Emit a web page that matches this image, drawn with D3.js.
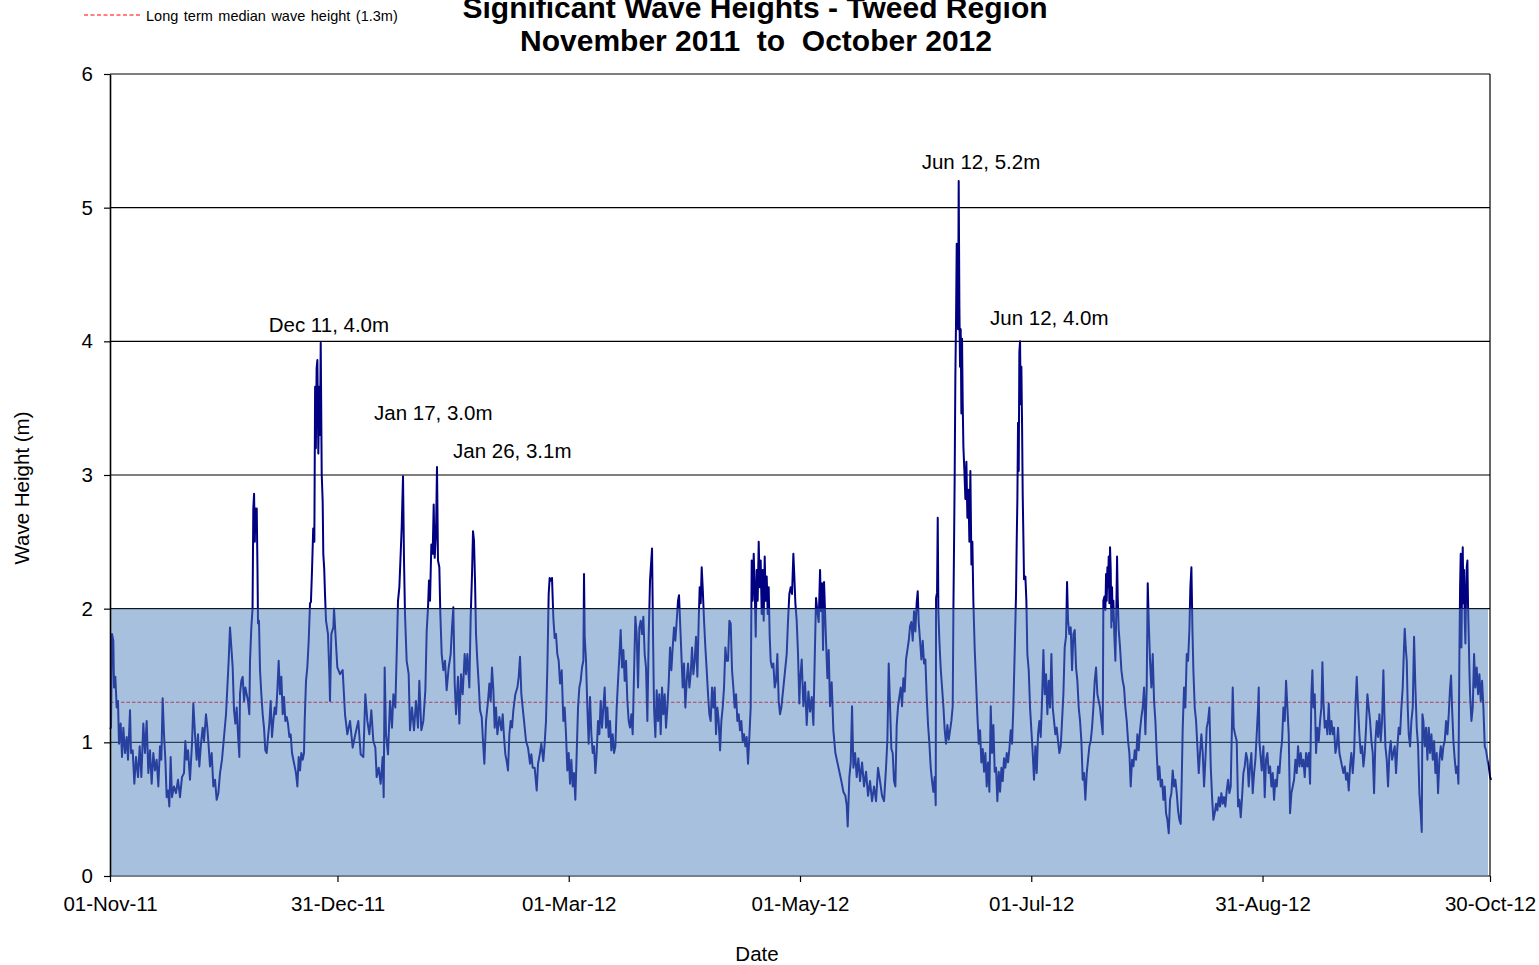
<!DOCTYPE html>
<html>
<head>
<meta charset="utf-8">
<script src="https://cdn.jsdelivr.net/npm/d3@7"></script>
<style>
body { margin: 0; background: #fff; }
text { font-family: "Liberation Sans", Arial, sans-serif; fill: #000; }
</style>
</head>
<body>
<svg id="chart" width="1539" height="965"></svg>
<script>
// hourly Hs as [days since 01-Nov-11, Hs (m)]
var hsNovDec = [[0,1.1],[0.26,1.11],[0.53,1.81],[0.88,1.76],[1.06,1.41],[1.41,1.49],[1.76,1.26],[2.11,1.31],[2.37,0.99],[2.81,1.14],[3.17,0.89],[3.52,1.11],[3.96,0.92],[4.4,1.04],[4.75,0.87],[5.28,1.24],[5.54,0.92],[5.98,0.94],[6.42,0.69],[6.86,0.89],[7.39,0.74],[7.83,0.97],[8.27,0.74],[8.79,1.14],[9.23,0.92],[9.67,1.16],[10.11,0.77],[10.55,0.94],[10.99,0.69],[11.43,0.92],[11.87,0.79],[12.31,0.87],[12.75,0.67],[13.19,0.97],[13.54,0.87],[13.89,1.33],[14.24,1.06],[14.6,0.87],[14.95,0.59],[15.3,0.64],[15.65,0.52],[16,0.89],[16.35,0.59],[16.88,0.67],[17.41,0.62],[17.94,0.72],[18.46,0.59],[18.99,0.74],[19.52,0.77],[19.87,1.01],[20.22,0.87],[20.58,0.94],[21.1,0.72],[21.63,0.99],[21.98,1.29],[22.42,1.06],[22.86,0.87],[23.21,1.06],[23.56,0.82],[24,0.99],[24.44,1.11],[24.8,1.01],[25.32,1.21],[25.67,1.11],[26.03,0.97],[26.38,0.82],[26.82,0.92],[27.26,0.67],[27.7,0.72],[28.14,0.57],[28.58,0.62],[29.02,0.77],[29.54,0.87],[30.07,1.04],[30.6,1.21],[30.95,1.41],[31.3,1.61],[31.65,1.86],[32.01,1.71],[32.36,1.56],[32.71,1.24],[33.06,1.14],[33.41,1.26],[33.76,1.06],[34.12,0.89],[34.29,1.36],[34.64,1.46],[35,1.49],[35.35,1.31],[35.7,1.41],[36.05,1.36],[36.4,1.31],[36.75,1.21],[36.93,1.61],[37.28,1.86],[37.6,2.0],[37.8,2.75],[38.0,2.86],[38.2,2.5],[38.35,2.75],[38.5,2.6],[38.7,2.75],[38.9,2.3],[39.04,1.89],[39.3,1.91],[39.57,1.54],[39.92,1.36],[40.27,1.21],[40.62,1.11],[40.97,0.94],[41.33,0.92],[41.68,1.04],[42.03,1.14],[42.38,1.31],[42.73,1.04],[43.08,1.16],[43.44,1.26],[43.79,1.21],[44.14,1.39],[44.49,1.61],[44.84,1.36],[45.2,1.49],[45.55,1.21],[45.9,1.34],[46.25,1.16],[46.6,1.19],[46.95,1.14],[47.31,1.04],[47.66,1.06],[48.01,0.92],[48.36,0.87],[48.71,0.82],[49.06,0.77],[49.42,0.67],[49.77,0.89],[50.12,0.79],[50.47,0.92],[50.82,0.87],[51.17,0.92],[51.35,1.16],[51.7,1.46],[52.05,1.56],[52.41,1.76],[52.76,2.04],[53.0,2.05],[53.3,2.3],[53.6,2.6],[53.9,2.5],[54.1,3.66],[54.3,3.2],[54.5,3.8],[54.7,3.86],[54.95,3.16],[55.2,3.66],[55.4,3.3],[55.58,3.99],[55.84,3.01],[56.1,2.8],[56.26,2.41],[56.5,2.3],[56.71,2.11],[56.98,1.91],[57.5,1.81],[57.86,1.51],[58.03,1.31],[58.38,1.81],[58.91,1.86]]

var hsJanFeb = [[59.09,2.0],[59.96,1.56],[60.67,1.51],[61.37,1.54],[61.99,1.21],[62.6,1.06],[63.31,1.16],[64.01,0.96],[64.71,1.06],[65.5,1.16],[66.12,0.91],[66.82,0.89],[67.35,1.36],[67.88,1.16],[68.41,1.06],[68.93,1.24],[69.46,1.01],[69.99,0.96],[70.34,0.74],[70.87,0.81],[71.39,0.69],[71.92,0.89],[72.19,0.59],[72.45,1.56],[72.8,1.06],[73.33,0.91],[73.86,1.31],[74.38,1.11],[74.74,1.36],[75.26,1.26],[75.62,1.66],[75.97,2.06],[76.32,2.16],[76.67,2.41],[76.94,2.61],[77.29,2.99],[77.55,2.36],[77.81,1.96],[78.25,1.61],[78.78,1.51],[79.13,1.09],[79.66,1.26],[80.19,1.09],[80.71,1.31],[81.24,1.11],[81.59,1.46],[82.12,1.09],[82.65,1.16],[83.18,1.39],[83.53,1.83],[83.88,2.01],[84.14,2.21],[84.41,2.06],[84.76,2.48],[85.11,2.41],[85.38,2.78],[85.64,2.38],[85.99,2.56],[86.25,3.06],[86.52,2.36],[86.87,2.31],[87.13,1.96],[87.49,1.66],[87.93,1.54],[88.36,1.61],[88.8,1.39],[89.33,1.56],[89.86,1.66],[90.21,1.86],[90.56,2.01],[90.92,1.44],[91.27,1.21],[91.79,1.49],[92.15,1.14],[92.59,1.51],[93.03,1.36],[93.55,1.66],[93.9,1.51],[94.26,1.66],[94.78,1.41],[95.13,1.93],[95.49,2.26],[95.75,2.58],[96.01,2.51],[96.28,2.21],[96.54,1.81],[96.89,1.61],[97.25,1.44],[97.6,1.24],[98.04,1.19],[98.48,0.96],[98.74,0.84],[99.18,1.16],[99.71,1.31],[100.06,1.44],[100.41,1.31],[100.76,1.56],[101.12,1.39],[101.47,1.11],[101.82,1.26],[102.17,1.06],[102.7,1.19],[103.22,1.09],[103.58,1.21],[103.93,1.04],[104.28,0.91],[104.63,0.86],[104.98,0.79],[105.34,1.06],[105.69,1.16],[106.04,1.11],[106.39,1.24],[106.92,1.36],[107.45,1.41],[107.8,1.49],[108.15,1.64],[108.5,1.36],[108.85,1.26],[109.21,1.16],[109.73,1.01],[110.26,0.96],[110.79,0.84],[111.14,0.91],[111.49,0.81],[112.02,0.81],[112.55,0.64],[112.9,0.84],[113.25,0.89],[113.77,0.99],[114.3,0.86],[114.65,0.99],[115.0,1.16],[115.36,1.56],[115.71,2.11],[115.97,2.23],[116.24,2.21],[116.59,2.23],[116.94,1.93],[117.29,1.78],[117.64,1.81],[117.99,1.66],[118.35,1.61],[118.7,1.44]]

var hsMarApr = [[119.14,1.54],[119.58,1.16],[119.93,1.26],[120.28,1.06],[120.63,0.79],[120.99,0.92],[121.34,0.69],[121.69,0.87],[122.04,0.67],[122.39,0.77],[122.74,0.57],[123.1,0.92],[123.45,1.26],[123.8,1.41],[124.15,1.46],[124.5,1.56],[124.86,1.61],[125.03,2.26],[125.21,1.79],[125.56,1.61],[125.91,1.26],[126.26,0.99],[126.61,1.34],[126.97,1.06],[127.32,0.92],[127.67,0.97],[128.02,0.77],[128.37,0.92],[128.72,1.16],[129.08,1.06],[129.43,1.31],[129.78,1.11],[130.13,1.26],[130.48,1.41],[130.83,1.11],[131.19,1.26],[131.54,1.04],[131.89,1.16],[132.24,0.94],[132.59,1.06],[132.94,0.92],[133.3,0.97],[133.65,1.26],[134.0,1.46],[134.35,1.64],[134.7,1.84],[135.05,1.56],[135.41,1.69],[135.76,1.46],[136.11,1.61],[136.46,1.31],[136.81,1.16],[137.16,1.11],[137.52,1.21],[137.87,1.06],[138.22,1.51],[138.57,1.94],[138.92,1.81],[139.28,1.41],[139.63,1.86],[139.98,1.91],[140.33,1.81],[140.68,1.94],[141.03,1.66],[141.38,1.56],[141.74,1.16],[142.09,1.79],[142.44,2.21],[142.97,2.45],[143.23,1.81],[143.5,1.26],[143.85,1.04],[144.2,1.39],[144.55,1.16],[144.9,1.36],[145.25,1.06],[145.61,1.41],[145.96,1.21],[146.31,1.36],[146.66,1.11],[147.01,1.26],[147.36,1.44],[147.72,1.71],[148.07,1.54],[148.42,1.71],[148.77,1.86],[149.12,1.76],[149.48,1.91],[149.83,2.06],[150.09,2.1],[150.36,1.91],[150.71,1.66],[151.06,1.41],[151.41,1.59],[151.76,1.26],[152.11,1.46],[152.47,1.59],[152.82,1.41],[153.17,1.51],[153.52,1.71],[153.87,1.51],[154.22,1.61],[154.57,1.79],[154.93,1.49],[155.28,1.91],[155.54,2.16],[155.81,2.04],[156.07,2.31],[156.33,2.16],[156.69,1.91],[157.04,1.71],[157.39,1.54],[157.74,1.36],[158.09,1.21],[158.44,1.16],[158.8,1.41],[159.15,1.26],[159.5,1.41],[159.85,1.06],[160.2,1.26],[160.55,1.16],[160.91,0.94],[161.26,1.16],[161.61,1.26],[161.96,1.41],[162.31,1.71],[162.66,1.61],[163.02,1.61],[163.37,1.91],[163.72,1.89],[164.07,1.54],[164.42,1.41],[164.77,1.26],[165.13,1.36],[165.48,1.16],[165.83,1.21],[166.18,1.09],[166.53,1.16],[166.88,1.01],[167.24,1.06],[167.59,0.97],[167.94,1.04],[168.29,0.84],[168.64,1.04],[168.99,1.26],[169.26,2.36],[169.52,2.06],[169.79,2.41],[170.05,2.16],[170.32,1.79],[170.58,2.29],[170.84,2.06],[171.11,2.5],[171.37,2.16],[171.63,2.36],[171.9,1.96],[172.16,2.29],[172.42,1.91],[172.69,2.39],[172.95,2.06],[173.22,2.24],[173.48,1.96],[173.74,2.16],[174.01,1.79],[174.27,1.61],[174.62,1.56],[174.97,1.59],[175.33,1.41],[175.68,1.46],[176.03,1.66],[176.38,1.31],[176.73,1.21],[177.08,1.26],[177.44,1.36],[177.79,1.46],[178.14,1.56],[178.49,1.66],[178.84,1.91],[179.19,2.11],[179.55,2.16],[179.9,2.11],[180.25,2.41],[180.51,2.24],[180.78,2.04],[181.13,1.91],[181.48,1.66],[181.83,1.29]]

var hsMayJun = [[182.01,1.45],[182.45,1.62],[182.89,1.27],[183.33,1.45],[183.77,1.13],[184.21,1.38],[184.65,1.23],[185.09,1.34],[185.53,1.13],[185.88,1.62],[186.23,2.08],[186.58,1.98],[186.93,1.9],[187.29,2.29],[187.55,1.98],[187.81,2.19],[188.08,1.69],[188.34,2.2],[188.6,1.98],[188.87,1.76],[189.22,1.48],[189.57,1.69],[189.92,1.27],[190.36,1.45],[190.8,1.09],[191.33,0.92],[191.86,0.85],[192.39,0.78],[192.91,0.71],[193.44,0.63],[193.97,0.6],[194.32,0.53],[194.58,0.37],[195.02,0.74],[195.38,0.85],[195.73,1.27],[196.08,0.81],[196.52,0.92],[196.96,0.74],[197.4,0.88],[197.84,0.71],[198.37,0.85],[198.89,0.67],[199.42,0.78],[199.95,0.6],[200.47,0.71],[201.0,0.56],[201.53,0.67],[202.06,0.56],[202.58,0.81],[203.11,0.71],[203.64,0.6],[204.17,0.56],[204.69,0.81],[205.05,1.02],[205.4,1.59],[205.75,1.27],[206.1,0.95],[206.45,0.92],[206.8,0.71],[207.16,0.67],[207.51,1.13],[207.86,1.27],[208.21,1.34],[208.56,1.41],[208.91,1.27],[209.27,1.48],[209.62,1.38],[209.97,1.62],[210.32,1.69],[210.68,1.76],[211.03,1.87],[211.38,1.9],[211.73,1.76],[212.08,1.98],[212.43,1.83],[212.79,2.05],[213.05,2.13],[213.31,1.9],[213.67,1.76],[214.02,1.62],[214.37,1.76],[214.72,1.59],[215.07,1.62],[215.42,1.34],[215.78,1.13],[216.13,0.99],[216.48,0.81],[216.83,0.71],[217.18,0.63],[217.53,0.74],[217.8,0.53],[217.89,2.08],[218.15,2.12],[218.33,2.68],[218.5,1.98],[218.76,1.76],[219.12,1.55],[219.47,1.41],[219.82,1.27],[220.17,1.09],[220.52,0.99],[220.87,1.13],[221.23,1.02],[221.58,1.09],[221.93,1.16],[222.28,1.27],[222.46,1.98],[222.63,2.47],[222.81,3.03],[222.98,3.74],[223.16,4.16],[223.34,4.73],[223.51,4.44],[223.69,4.09],[223.86,5.2],[224.04,4.27],[224.21,3.81],[224.39,4.09],[224.57,3.46],[224.74,4.02],[224.92,3.53],[225.1,3.21],[225.36,3.03],[225.62,2.82],[225.89,3.1],[226.15,2.68],[226.41,2.89],[226.68,2.5],[226.94,3.03],[227.21,2.33],[227.47,2.5],[227.73,2.05],[228.09,1.69],[228.44,1.45],[228.79,1.2],[229.14,0.99],[229.49,1.09],[229.84,0.85],[230.2,0.95],[230.55,0.78],[230.9,0.92],[231.25,0.67],[231.6,0.85],[231.95,0.63],[232.31,1.27],[232.66,0.92],[233.01,1.13],[233.36,0.78],[233.71,0.81],[234.06,0.56],[234.42,0.78],[234.77,0.63],[235.12,0.81],[235.47,0.71],[235.82,0.88],[236.17,0.81],[236.53,0.92],[236.88,0.85],[237.23,0.95],[237.58,1.09],[237.93,0.99],[238.28,1.27],[238.64,1.69],[238.99,2.12],[239.16,2.5],[239.34,2.82],[239.51,3.39],[239.69,3.03],[239.86,3.92],[240.04,4.0],[240.22,3.53],[240.39,3.81],[240.57,3.39],[240.74,2.86],[240.92,2.54],[241.09,2.22]]

var hsJulAug = [[241.45,2.24],[241.71,2.06],[241.97,1.66],[242.33,1.54],[242.68,1.26],[243.03,1.09],[243.38,0.92],[243.73,0.72],[244.08,0.97],[244.44,0.77],[244.79,1.06],[245.14,1.16],[245.49,1.04],[245.84,1.31],[246.2,1.69],[246.55,1.36],[246.9,1.51],[247.25,1.21],[247.6,1.46],[247.95,1.26],[248.31,1.66],[248.66,1.26],[249.01,1.16],[249.36,1.06],[249.71,1.11],[250.06,1.01],[250.42,0.92],[250.77,0.97],[251.12,1.16],[251.47,1.36],[251.82,1.71],[252.17,1.79],[252.44,2.2],[252.7,1.91],[253.05,1.81],[253.41,1.86],[253.76,1.54],[254.11,1.81],[254.46,1.84],[254.81,1.56],[255.16,1.46],[255.52,1.26],[255.87,1.16],[256.22,1.01],[256.57,0.72],[256.92,0.77],[257.27,0.57],[257.63,0.77],[257.98,0.87],[258.33,0.97],[258.68,1.01],[259.03,1.11],[259.38,1.26],[259.74,1.46],[260.09,1.56],[260.44,1.36],[260.79,1.31],[261.14,1.26],[261.49,1.16],[261.85,1.06],[262.02,2.06],[262.29,2.09],[262.55,1.99],[262.73,2.26],[262.9,2.06],[263.08,2.31],[263.25,2.16],[263.43,2.39],[263.6,2.04],[263.78,2.46],[263.96,2.29],[264.13,1.86],[264.31,2.16],[264.48,1.91],[264.66,2.06],[264.92,1.79],[265.19,1.61],[265.45,2.01],[265.63,2.39],[265.8,2.09],[266.07,1.84],[266.42,1.71],[266.77,1.54],[267.12,1.46],[267.47,1.41],[267.83,1.26],[268.18,1.16],[268.53,1.01],[268.88,0.92],[269.23,0.67],[269.58,0.87],[269.94,0.82],[270.29,0.94],[270.64,0.87],[270.99,1.06],[271.34,0.94],[271.69,1.09],[272.05,1.19],[272.4,1.26],[272.75,1.41],[273.1,1.06],[273.45,1.41],[273.72,2.19],[273.98,1.91],[274.33,1.61],[274.68,1.41],[275.04,1.66],[275.39,1.31],[275.74,1.16],[276.09,0.92],[276.44,0.72],[276.79,0.82],[277.15,0.67],[277.5,0.72],[277.85,0.57],[278.2,0.67],[278.55,0.47],[278.9,0.42],[279.26,0.32],[279.61,0.57],[279.96,0.62],[280.31,0.79],[280.66,0.67],[281.01,0.72],[281.37,0.62],[281.72,0.49],[282.07,0.42],[282.42,0.39],[282.69,0.72],[282.95,1.11],[283.3,1.41],[283.65,1.26],[284.01,1.66],[284.36,1.61],[284.71,1.84],[284.97,2.16],[285.24,2.31],[285.5,1.86],[285.76,1.54],[286.12,1.26],[286.47,1.16],[286.82,0.97],[287.17,0.77],[287.52,0.92],[287.87,1.06],[288.23,0.92],[288.58,0.67],[288.93,0.87],[289.28,1.11],[289.63,1.16],[289.98,1.26],[290.34,0.82],[290.69,0.59],[291.04,0.42],[291.39,0.47],[291.74,0.54],[292.09,0.49],[292.45,0.59],[292.8,0.52],[293.15,0.62],[293.5,0.54],[293.85,0.59],[294.2,0.52],[294.56,0.64],[294.91,0.72],[295.26,0.62],[295.61,0.67],[295.96,1.16],[296.14,1.41],[296.4,1.11],[296.75,1.06],[297.19,1.01],[297.55,0.52],[297.9,0.57],[298.25,0.44],[298.6,0.59],[298.95,0.77],[299.3,0.82],[299.66,0.92],[300.01,0.87],[300.36,0.67],[300.71,0.82],[301.06,0.92],[301.41,0.62],[301.77,0.77],[302.12,0.87],[302.47,1.06],[302.82,1.26],[303.0,1.41],[303.17,1.01]]

var hsSepOct = [[303.79,0.79],[304.23,0.97],[304.58,0.59],[304.93,0.87],[305.28,0.92],[305.64,0.77],[305.99,0.82],[306.34,0.67],[306.69,0.77],[307.04,0.57],[307.39,0.72],[307.75,0.67],[308.1,0.82],[308.45,0.77],[308.8,0.92],[309.15,1.01],[309.51,1.26],[309.86,1.16],[310.21,1.46],[310.56,1.26],[310.91,1.06],[311.26,0.47],[311.62,0.62],[311.97,0.67],[312.32,0.72],[312.67,0.87],[313.02,0.77],[313.37,0.97],[313.73,0.82],[314.08,0.92],[314.43,0.82],[314.78,0.87],[315.13,0.74],[315.48,0.92],[315.84,0.82],[316.19,0.92],[316.54,0.69],[316.89,1.36],[317.15,1.54],[317.42,1.26],[317.77,1.36],[318.12,0.92],[318.47,1.11],[318.83,1.01],[319.18,1.16],[319.53,1.26],[319.79,1.6],[320.06,1.31],[320.41,1.11],[320.76,1.16],[321.11,1.06],[321.46,1.29],[321.81,1.06],[322.17,1.16],[322.52,1.06],[322.87,1.11],[323.22,0.92],[323.57,0.97],[323.92,1.11],[324.28,0.92],[324.63,0.87],[324.98,0.82],[325.33,0.77],[325.68,0.82],[326.04,0.72],[326.39,0.77],[326.74,0.64],[327.09,0.82],[327.44,0.92],[327.79,0.77],[328.15,0.92],[328.5,1.26],[328.85,1.49],[329.2,1.26],[329.55,1.06],[329.9,0.92],[330.26,0.97],[330.61,0.82],[330.96,0.92],[331.31,1.11],[331.66,1.36],[332.01,1.26],[332.37,1.16],[332.72,1.01],[333.07,0.92],[333.42,0.62],[333.77,1.01],[334.13,1.16],[334.48,1.04],[334.83,1.21],[335.18,1.01],[335.53,1.16],[335.88,1.54],[336.15,1.21],[336.41,0.97],[336.76,0.87],[337.11,0.67],[337.47,0.92],[337.82,1.01],[338.17,0.87],[338.52,0.92],[338.87,0.97],[339.22,0.77],[339.58,0.97],[339.93,1.11],[340.28,1.06],[340.63,1.26],[340.98,1.41],[341.25,1.66],[341.51,1.85],[341.77,1.71],[342.04,1.61],[342.3,1.26],[342.57,1.06],[342.92,0.97],[343.27,1.16],[343.62,1.26],[343.97,1.79],[344.32,1.41],[344.68,1.11],[345.03,0.97],[345.38,0.62],[345.73,0.47],[346.0,0.33],[346.17,1.21],[346.43,1.16],[346.79,0.97],[347.14,1.11],[347.49,0.87],[347.84,1.11],[348.19,0.92],[348.55,1.06],[348.9,0.87],[349.25,1.01],[349.6,0.77],[349.95,0.92],[350.3,0.62],[350.66,0.87],[351.01,0.97],[351.36,0.87],[351.71,0.97],[352.06,1.01],[352.41,1.16],[352.77,1.06],[353.12,1.21],[353.47,1.41],[353.73,1.5],[353.99,1.26],[354.35,1.01],[354.7,0.87],[355.05,0.77],[355.4,0.82],[355.67,0.69],[355.93,1.66],[356.11,2.16],[356.28,2.41],[356.46,1.71],[356.63,2.16],[356.81,2.46],[356.99,2.04],[357.16,2.29],[357.34,1.91],[357.51,1.74],[357.69,2.11],[357.86,2.31],[358.04,2.36],[358.22,2.01],[358.39,1.79],[358.57,1.54],[358.74,1.36],[359.1,1.16],[359.45,1.26],[359.8,1.66],[360.15,1.41],[360.5,1.56],[360.86,1.36],[361.21,1.51],[361.56,1.31],[361.91,1.46],[362.26,1.26],[362.61,0.97],[362.97,0.94],[363.32,0.87],[363.67,0.82],[364.02,0.74],[364.3,0.72]]

var tickDates = ["2011-11-01", "2011-12-31", "2012-03-01", "2012-05-01", "2012-07-01", "2012-08-31", "2012-10-30"]
var yTicks = [0, 1, 2, 3, 4, 5, 6]
var medianHs = 1.3
var shadeTop = 2
var peakLabels = ["Dec 11, 4.0m", "Jan 17, 3.0m", "Jan 26, 3.1m", "Jun 12, 5.2m", "Jun 12, 4.0m"]
var peakDays = [55.58, 77.29, 86.25, 223.86, 240.04]
var peakHs = [4.0, 3.0, 3.1, 5.2, 4.0]

// where each label text sits relative to its peak (px)
var labelOffsets = [[-52, -9], [-29, -55], [16, -4], [-37, -12], [-30, -16]]

var svg = d3.select("#chart")
var plotLeft = 110, plotRight = 1490, plotTop = 74, plotBottom = 876
var fs = 20.5

var start = Date.UTC(2011, 10, 1)
var dayToDate = function(d) { return new Date(start + d * 86400000) }
var parseDay = d3.utcParse("%Y-%m-%d")

var x = d3.scaleUtc()
  .domain([parseDay(tickDates[0]), parseDay(tickDates[tickDates.length - 1])])
  .range([plotLeft, plotRight])
var y = d3.scaleLinear().domain([0, 6]).range([plotBottom, plotTop])

var series = hsNovDec.concat(hsJanFeb, hsMarApr, hsMayJun, hsJulAug, hsSepOct)

// gridlines
svg.append("g")
  .selectAll("line")
  .data(yTicks)
  .enter().append("line")
  .attr("x1", plotLeft).attr("x2", plotRight)
  .attr("y1", d => y(d)).attr("y2", d => y(d))
  .attr("stroke", "#000")
  .attr("stroke-width", 1.2)

// median line
svg.append("line")
  .attr("x1", plotLeft).attr("x2", plotRight)
  .attr("y1", y(medianHs)).attr("y2", y(medianHs))
  .attr("stroke", "#ff0000")
  .attr("stroke-width", 1.2)
  .attr("stroke-dasharray", "3.5,2")

var line = d3.line()
  .x(d => x(dayToDate(d[0])))
  .y(d => y(d[1]))

svg.append("path")
  .datum(series)
  .attr("d", line)
  .attr("fill", "none")
  .attr("stroke", "#000080")
  .attr("stroke-width", 2)
  .attr("stroke-linejoin", "round")

// shaded band 0-2 m, semi transparent over the trace
svg.append("rect")
  .attr("x", plotLeft + 1)
  .attr("y", y(shadeTop))
  .attr("width", plotRight - plotLeft - 3)
  .attr("height", y(0) - y(shadeTop))
  .attr("fill", "#4F81BD")
  .attr("fill-opacity", 0.5)

// axes
var xAxis = d3.axisBottom(x)
  .tickValues(tickDates.map(parseDay))
  .tickFormat(d3.utcFormat("%d-%b-%y"))
  .tickSize(6)
  .tickPadding(14)
var gx = svg.append("g")
  .attr("transform", `translate(0,${plotBottom})`)
  .call(xAxis)
gx.select(".domain").remove()
gx.selectAll("line").attr("stroke", "#000").attr("stroke-width", 1.2)
gx.selectAll("text").attr("font-size", fs).attr("font-family", null)

var yAxis = d3.axisLeft(y)
  .tickValues(yTicks)
  .tickFormat(d3.format("d"))
  .tickSize(6)
  .tickPadding(11)
  .tickSizeOuter(0)
var gy = svg.append("g")
  .attr("transform", `translate(${plotLeft},0)`)
  .call(yAxis)
gy.select(".domain").attr("stroke", "#000").attr("stroke-width", 1.6)
gy.selectAll("line").attr("stroke", "#000").attr("stroke-width", 1.2)
gy.selectAll("text").attr("font-size", fs).attr("font-family", null)

// right border
svg.append("line")
  .attr("x1", plotRight).attr("x2", plotRight)
  .attr("y1", plotTop).attr("y2", plotBottom)
  .attr("stroke", "#000")
  .attr("stroke-width", 1.2)

// peak labels
svg.append("g")
  .selectAll("text")
  .data(peakLabels)
  .enter().append("text")
  .attr("x", (d, i) => x(dayToDate(peakDays[i])) + labelOffsets[i][0])
  .attr("y", (d, i) => y(peakHs[i]) + labelOffsets[i][1])
  .attr("font-size", fs)
  .text(d => d)

// titles
svg.append("text")
  .attr("x", 755).attr("y", 18)
  .attr("text-anchor", "middle")
  .attr("font-size", 30)
  .attr("font-weight", "bold")
  .text("Significant Wave Heights - Tweed Region")
svg.append("text")
  .attr("x", 756).attr("y", 51)
  .attr("text-anchor", "middle")
  .attr("font-size", 30)
  .attr("font-weight", "bold")
  .style("white-space", "pre")
  .text("November 2011  to  October 2012")

svg.append("text")
  .attr("x", 757).attr("y", 961)
  .attr("text-anchor", "middle")
  .attr("font-size", fs)
  .text("Date")

svg.append("text")
  .attr("transform", "translate(29,488) rotate(-90)")
  .attr("text-anchor", "middle")
  .attr("font-size", fs)
  .text("Wave Height (m)")

// legend
svg.append("line")
  .attr("x1", 84).attr("x2", 141)
  .attr("y1", 15).attr("y2", 15)
  .attr("stroke", "#ff0000")
  .attr("stroke-width", 1)
  .attr("stroke-dasharray", "4,2.5")
svg.append("text")
  .attr("x", 146).attr("y", 20.5)
  .attr("font-size", 14.5)
  .attr("word-spacing", 1.5)
  .text("Long term median wave height (1.3m)")
</script>
</body>
</html>
